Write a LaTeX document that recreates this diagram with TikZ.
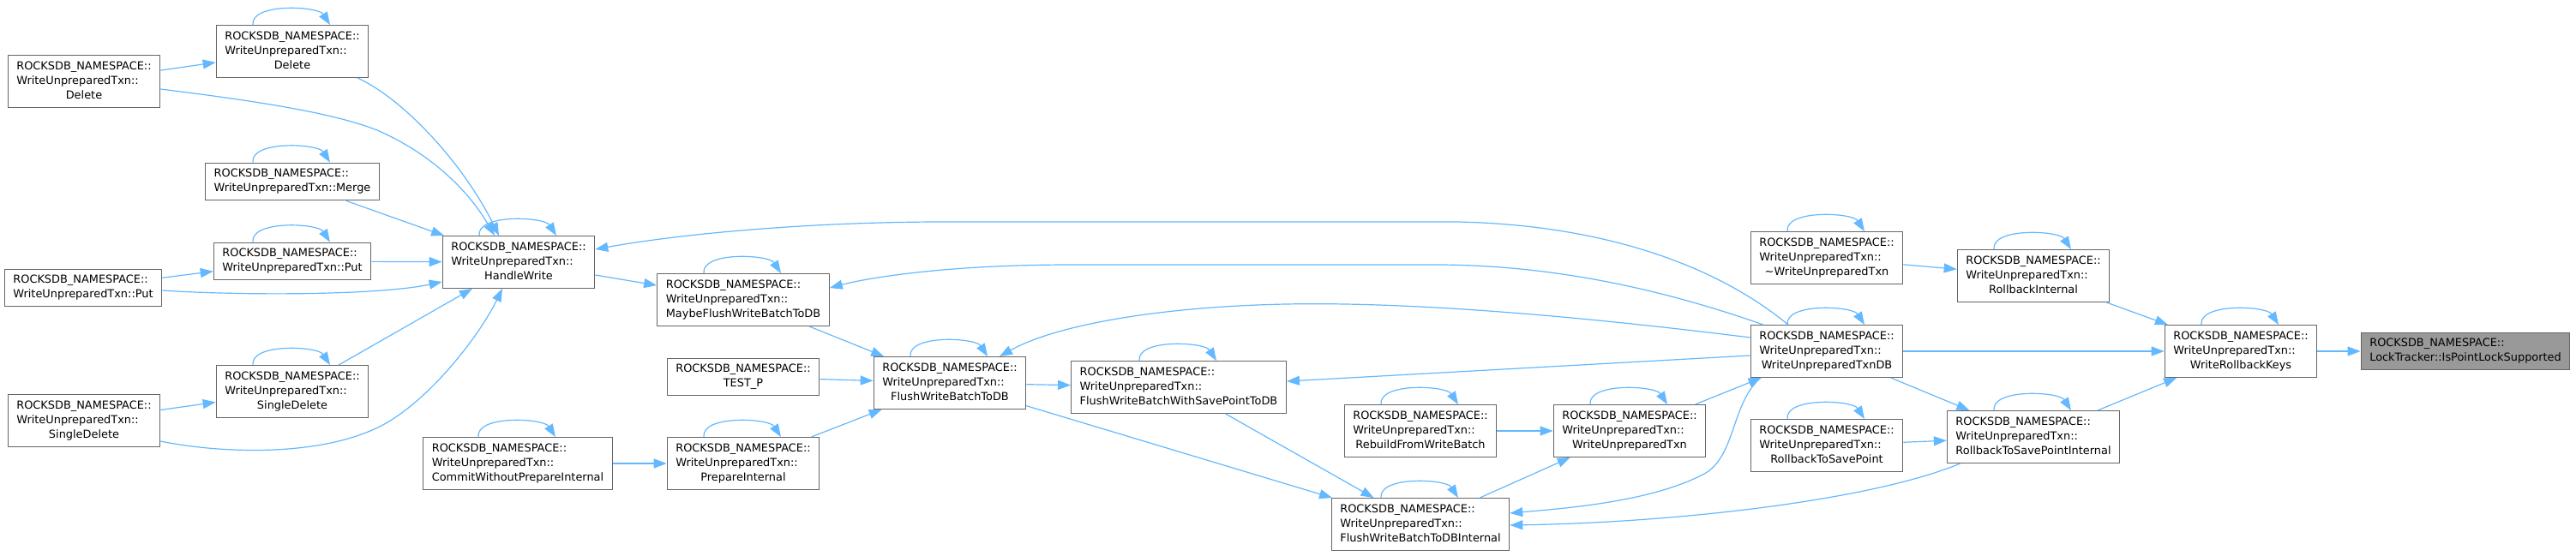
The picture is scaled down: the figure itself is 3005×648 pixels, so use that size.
\documentclass[tikz,border=0pt]{standalone}
\usepackage{fontspec}
\setmainfont{DejaVu Sans}
\usepackage{tikz}
\usetikzlibrary{arrows.meta,calc,positioning}
\definecolor{callblue}{HTML}{63B8FF}
\definecolor{fnframe}{HTML}{666666}
\definecolor{fnhigh}{HTML}{999999}

\newcommand{\twoline}[2]{\begin{tabular}{@{}l@{}}#1\\\multicolumn{1}{@{}c@{}}{#2}\end{tabular}}
\newcommand{\threeline}[3]{\begin{tabular}{@{}l@{}}#1\\#2\\\multicolumn{1}{@{}c@{}}{#3}\end{tabular}}
\newcommand{\ns}{ROCKSDB\_NAMESPACE::}
\newcommand{\wut}{WriteUnpreparedTxn::}

\begin{document}
\begin{tikzpicture}[
          x=1pt, y=-1pt,
          fn/.style={draw=fnframe, line width=1.3pt, fill=white, inner xsep=10pt, inner ysep=4.8pt,
                     font=\fontsize{12.9}{17}\selectfont},
          fnhl/.style={fn, fill=fnhigh},
          call/.style={draw=callblue, line width=1.2pt, -{Triangle[length=15pt,width=11pt]}}
      ]
        \useasboundingbox (0,0) rectangle (3005,648);
        % callers, left to right
        \node[fn] (del1) at (98,95) {\threeline{\ns}{\wut}{Delete}};
        \node[fn] (put1) at (97,336) {\twoline{\ns}{WriteUnpreparedTxn::Put}};
        \node[fn] (sdel1) at (98,491) {\threeline{\ns}{\wut}{SingleDelete}};
        \node[fn] (del2) at (341,60) {\threeline{\ns}{\wut}{Delete}};
        \node[fn] (merge) at (341,212) {\twoline{\ns}{WriteUnpreparedTxn::Merge}};
        \node[fn] (put2) at (341,305) {\twoline{\ns}{WriteUnpreparedTxn::Put}};
        \node[fn] (sdel2) at (341,457) {\threeline{\ns}{\wut}{SingleDelete}};
        \node[fn] (hw) at (605,306) {\threeline{\ns}{\wut}{HandleWrite}};
        \node[fn] (commit) at (604,541) {\threeline{\ns}{\wut}{CommitWithoutPrepareInternal}};
        \node[fn] (maybe) at (867,350) {\threeline{\ns}{\wut}{MaybeFlushWriteBatchToDB}};
        \node[fn] (testp) at (867,440) {\twoline{\ns}{TEST\_P}};
        \node[fn] (prep) at (867,541) {\threeline{\ns}{\wut}{PrepareInternal}};
        \node[fn] (fwb) at (1108,447) {\threeline{\ns}{\wut}{FlushWriteBatchToDB}};
        \node[fn] (fwbsp) at (1375,452) {\threeline{\ns}{\wut}{FlushWriteBatchWithSavePointToDB}};
        \node[fn] (rebuild) at (1657,503) {\threeline{\ns}{\wut}{RebuildFromWriteBatch}};
        \node[fn] (fwbi) at (1657,612) {\threeline{\ns}{\wut}{FlushWriteBatchToDBInternal}};
        \node[fn] (wut) at (1901,503) {\threeline{\ns}{\wut}{WriteUnpreparedTxn}};
        \node[fn] (dtor) at (2131,301) {\threeline{\ns}{\wut}{\textasciitilde WriteUnpreparedTxn}};
        \node[fn] (wutdb) at (2131,410) {\threeline{\ns}{\wut}{WriteUnpreparedTxnDB}};
        \node[fn] (rtsp) at (2131,520) {\threeline{\ns}{\wut}{RollbackToSavePoint}};
        \node[fn] (rbi) at (2372,322) {\threeline{\ns}{\wut}{RollbackInternal}};
        \node[fn] (rtspi) at (2372,510) {\threeline{\ns}{\wut}{RollbackToSavePointInternal}};
        \node[fn] (wrk) at (2614,410) {\threeline{\ns}{\wut}{WriteRollbackKeys}};
        \node[fnhl] (lock) at (2876,410) {\twoline{\ns}{LockTracker::IsPointLockSupported}};
        % recursive calls
        \foreach \n in {del2,merge,put2,sdel2,hw,commit,maybe,prep,fwb,fwbsp,rebuild,wut,fwbi,dtor,wutdb,rtsp,rbi,rtspi,wrk}
          \draw[call] ($(\n.north)+(-46,0)$) .. controls +(-3,-26) and +(-14,-22) .. ($(\n.north)+(44,0)$);
        % straight calls
        \foreach \src/\dst in {del1/del2, merge/hw, put2/hw, put1/put2, sdel2/hw, sdel1/sdel2, hw/maybe,
            commit/prep, maybe/fwb, testp/fwb, prep/fwb, fwb/fwbsp, fwb/fwbi, fwbsp/fwbi, rebuild/wut,
            wut/wutdb, fwbi/wut, wutdb/fwbsp, dtor/rbi, wutdb/wrk, wutdb/rtspi, rtsp/rtspi, rbi/wrk,
            rtspi/wrk, wrk/lock}
          \draw[call] (\src) -- (\dst);
        % curved calls
        \draw[call] ($(del1.east)+(0,9)$) .. controls (300,118) and (390,132) .. (440,152)
            .. controls (500,178) and (545,220) .. ($(hw.north)+(-28,0)$);
        \draw[call] ($(del2.south)+(76,0)$) .. controls (470,115) and (540,190) .. ($(hw.north)+(-23,0)$);
        \draw[call] ($(put1.east)+(0,3)$) .. controls (280,345) and (440,345) .. ($(hw.west)+(0,23)$);
        \draw[call] ($(sdel1.east)+(0,24)$) .. controls (260,530) and (390,535) .. (460,488)
            .. controls (510,455) and (560,390) .. ($(hw.south)+(-19,0)$);
        \draw[call] ($(wutdb.north)+(-45,0)$) .. controls (1990,300) and (1850,262) .. (1700,259)
            -- (1100,259) .. controls (950,259) and (800,272) .. ($(hw.east)+(0,-15)$);
        \draw[call] ($(wutdb.north)+(-74,0)$) .. controls (1960,345) and (1830,310) .. (1680,309)
            -- (1250,309) .. controls (1100,309) and (1010,325) .. ($(maybe.east)+(0,-14)$);
        \draw[call] ($(wutdb.west)+(0,-16)$) .. controls (1850,370) and (1650,352) .. (1500,355)
            .. controls (1350,358) and (1230,380) .. ($(fwb.north)+(58,0)$);
        \draw[call] ($(wutdb.south)+(-77,0)$) .. controls (2020,470) and (2025,530) .. (1990,552)
            .. controls (1930,585) and (1830,593) .. ($(fwbi.east)+(0,-13)$);
        \draw[call] ($(rtspi.south)+(-85,0)$) .. controls (2180,585) and (1950,610) .. ($(fwbi.east)+(0,1)$);
      \end{tikzpicture}
\end{document}
